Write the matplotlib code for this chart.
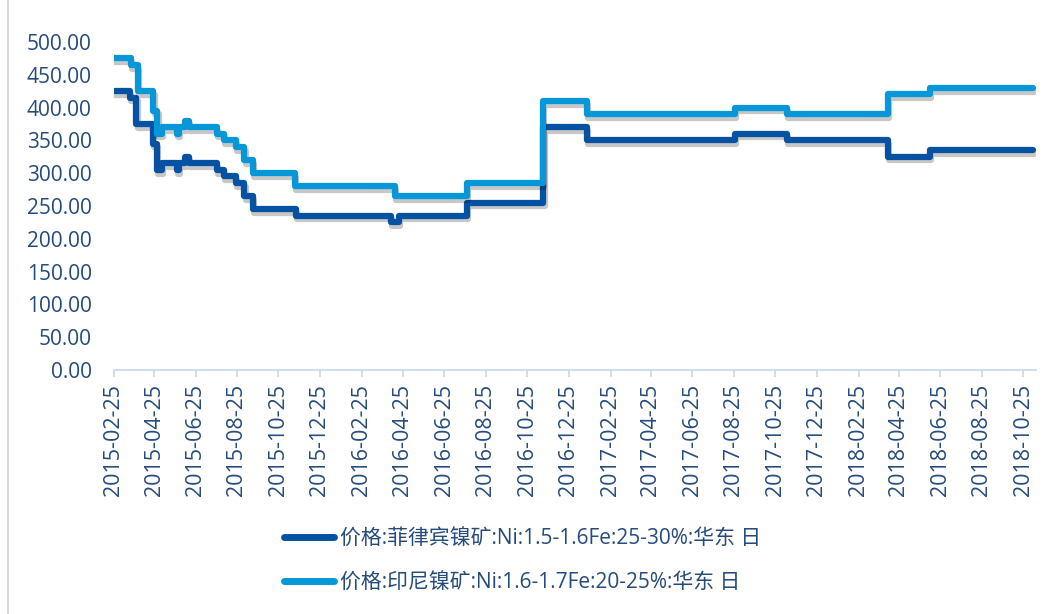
import matplotlib
matplotlib.use("Agg")
import matplotlib.pyplot as plt
import matplotlib.patheffects as pe
from matplotlib.lines import Line2D
import pandas as pd

# ---- data ----
ph_dates = ["2015-02-25", "2015-03-20", "2015-03-30", "2015-04-23", "2015-04-29",
            "2015-05-06", "2015-05-28", "2015-06-01", "2015-06-10", "2015-06-15",
            "2015-07-26", "2015-08-06", "2015-08-24", "2015-09-05", "2015-09-17",
            "2015-11-20", "2016-04-08", "2016-04-20", "2016-07-28", "2016-11-18",
            "2017-01-21", "2017-08-27", "2017-11-11", "2018-04-09", "2018-06-10",
            "2018-11-09"]
ph_values = [425, 415, 375, 345, 305,
             315, 305, 315, 325, 315,
             305, 295, 285, 265, 245,
             235, 225, 235, 255, 370,
             350, 360, 350, 325, 335,
             335]

id_dates = ["2015-02-25", "2015-03-22", "2015-04-01", "2015-04-24", "2015-04-30",
            "2015-05-06", "2015-05-28", "2015-06-01", "2015-06-10", "2015-06-15",
            "2015-07-26", "2015-08-06", "2015-08-24", "2015-09-05", "2015-09-17",
            "2015-11-18", "2016-04-13", "2016-07-28", "2016-11-17", "2017-01-21",
            "2017-08-27", "2017-11-11", "2018-04-09", "2018-06-10", "2018-11-09"]
id_values = [475, 465, 425, 395, 360,
             370, 360, 370, 380, 370,
             360, 350, 340, 320, 300,
             280, 265, 285, 410, 390,
             400, 390, 420, 430, 430]

ph_label = "价格:菲律宾镍矿:Ni:1.5-1.6Fe:25-30%:华东 日"
id_label = "价格:印尼镍矿:Ni:1.6-1.7Fe:20-25%:华东 日"

y_ticks = [0, 50, 100, 150, 200, 250, 300, 350, 400, 450, 500]
x_tick_labels = ["2015-02-25", "2015-04-25", "2015-06-25", "2015-08-25", "2015-10-25",
                 "2015-12-25", "2016-02-25", "2016-04-25", "2016-06-25", "2016-08-25",
                 "2016-10-25", "2016-12-25", "2017-02-25", "2017-04-25", "2017-06-25",
                 "2017-08-25", "2017-10-25", "2017-12-25", "2018-02-25", "2018-04-25",
                 "2018-06-25", "2018-08-25", "2018-10-25"]

# ---- style ----
dark = "#0552A2"
light = "#0597D7"
text_c = "#254A7C"
axis_c = "#CCDAEC"
fam = ["Open Sans", "Noto Sans CJK SC", "DejaVu Sans"]
plt.rcParams["font.family"] = fam

fig = plt.figure(figsize=(10.54, 6.14), dpi=100)
ax = fig.add_axes([114 / 1054, 1 - 370 / 614, (1036 - 114) / 1054, (370 - 42) / 614])

shadow = [pe.SimpleLineShadow(offset=(0.8, -2.6), shadow_color="#000000", alpha=0.22),
          pe.Normal()]

l1, = ax.step(pd.to_datetime(ph_dates), ph_values, where="post", color=dark, lw=4.5,
              solid_joinstyle="round", solid_capstyle="round", path_effects=shadow,
              label=ph_label, zorder=3)
l2, = ax.step(pd.to_datetime(id_dates), id_values, where="post", color=light, lw=4.5,
              solid_joinstyle="round", solid_capstyle="round", path_effects=shadow,
              label=id_label, zorder=4)

ax.set_ylim(0, 500)
ax.set_xlim(pd.Timestamp("2015-02-25"), pd.Timestamp("2018-11-13"))
ax.set_yticks(y_ticks)
ax.set_yticklabels([f"{v:.2f}" for v in y_ticks])
ax.set_xticks(pd.to_datetime(x_tick_labels))
ax.set_xticklabels(x_tick_labels, rotation=90)

for s in ["top", "right", "left"]:
    ax.spines[s].set_visible(False)
ax.spines["bottom"].set_color(axis_c)
ax.spines["bottom"].set_linewidth(1.3)
ax.tick_params(axis="y", length=0, pad=16, labelsize=15, labelcolor=text_c)
ax.tick_params(axis="x", length=5, width=1.3, color=axis_c, pad=5, labelsize=15.5,
               labelcolor=text_c, direction="out")

leg = fig.legend(handles=[l1, l2], loc="upper left", bbox_to_anchor=(265 / 1054, 1 - 510 / 614),
                 frameon=False, fontsize=15, handlelength=2.4, handletextpad=0.3,
                 labelspacing=1.1, labelcolor=text_c)
for h in leg.legend_handles:
    h.set_linewidth(5)
    h.set_path_effects([])
    h.set_solid_capstyle("round")

fig.add_artist(Line2D([7.5 / 1054, 7.5 / 1054], [0, 1], transform=fig.transFigure,
                      color="#D9D9D9", lw=1.5))

fig.savefig("out.png", dpi=100)
